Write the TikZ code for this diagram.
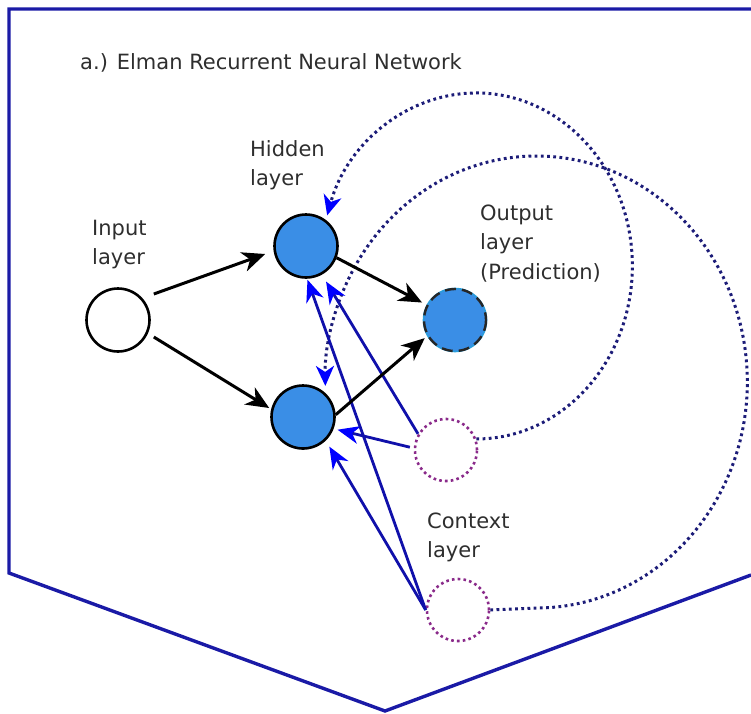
\documentclass[tikz,border=0pt]{standalone}
\usepackage{fontspec}
\setmainfont{DejaVu Sans}
\usetikzlibrary{arrows.meta}

\definecolor{framecol}{HTML}{1A1AA6}
\definecolor{loopnavy}{HTML}{1C1C78}
\definecolor{tipblue}{HTML}{0000FF}
\definecolor{linkblue}{HTML}{1010AA}
\definecolor{unitblue}{HTML}{3A8EE6}
\definecolor{ctxpurple}{HTML}{8A2A8A}
\definecolor{labelgray}{HTML}{2E2E2E}

\begin{document}
\begin{tikzpicture}[x=1pt,y=-1pt,
  unit/.style={circle, minimum size=63pt, inner sep=0pt, line width=2.6pt},
  hiddenunit/.style={unit, draw=black, fill=unitblue},
  inputunit/.style={unit, draw=black, fill=white},
  contextunit/.style={unit, draw=ctxpurple, line width=2.6pt, dash pattern=on 2.6pt off 3.2pt, minimum size=62pt},
  lbl/.style={anchor=base west, inner sep=0pt, text=labelgray,
    font=\fontsize{21}{29.5}\selectfont},
  feed/.style={draw=black, line width=3pt,
    -{Stealth[length=23pt, width=20pt, inset=7pt]}},
  ctxlink/.style={draw=linkblue, line width=2.8pt,
    -{Stealth[length=22pt, width=18pt, inset=7pt, color=tipblue]}},
  recur/.style={draw=loopnavy, line width=3pt, dash pattern=on 2.8pt off 3.4pt,
    -{Stealth[length=20pt, width=18pt, inset=6pt, color=tipblue]}}
]
\useasboundingbox (0,0) rectangle (751,713);

% outer frame
\draw[framecol, line width=3.4pt, line join=miter]
  (751,9) -- (9,9) -- (9,573) -- (385,711) -- (751,575);

% title
\node[lbl] (title) at (80,69.5) {a.) Elman Recurrent Neural Network};

% units
\node[inputunit]  (I)  at (118,320) {};
\node[hiddenunit] (H1) at (306,246) {};
\node[hiddenunit] (H2) at (303,417) {};
\node[unit, fill=unitblue, draw=cyan!55!unitblue, line width=1.6pt] (O) at (455,320) {};
\draw[black!85, line width=2.4pt, dash pattern=on 11pt off 6pt] (O.center) circle[radius=31];
\node[contextunit] (C1) at (446,450) {};
\node[contextunit] (C2) at (458,610) {};

% labels
\node[lbl] (lin) at (92,235) {\begin{tabular}[t]{@{}l@{}}Input\\layer\end{tabular}};
\node[lbl] (lhid) at (250,156) {\begin{tabular}[t]{@{}l@{}}Hidden\\layer\end{tabular}};
\node[lbl] (lout) at (480,220) {\begin{tabular}[t]{@{}l@{}}Output\\layer\\(Prediction)\end{tabular}};
\node[lbl] (lctx) at (427,528) {\begin{tabular}[t]{@{}l@{}}Context\\layer\end{tabular}};

% recurrent copies back into the hidden layer
\draw[recur] (C1.20) arc[start angle=90, end angle=-163, x radius=156, y radius=173];
\draw[recur] (C2.east) -- ++(46,-2)
  arc[start angle=90, end angle=-181, x radius=211, y radius=226];

% context to hidden
\draw[ctxlink, shorten >=8pt] (C1.150) -- (H1.-61);
\draw[ctxlink, shorten >=4pt] ([xshift=-4pt]C1.175) -- (H2.-21);
\draw[ctxlink, shorten >=1pt] (C2.west) -- (H1.-88);
\draw[ctxlink, shorten >=7pt] (C2.west) -- (H2.-46);

% feed-forward connections
\draw[feed] ([shift={(3,-26)}]I.east) -- ([shift={(-8,8)}]H1.west);
\draw[feed] ([shift={(3,17)}]I.east) -- ([shift={(-1,-9)}]H2.west);
\draw[feed, shorten >=5pt] (H1.-21) -- (O.152);
\draw[feed, shorten >=3pt] (H2.4) -- (O.-150);
\end{tikzpicture}
\end{document}
